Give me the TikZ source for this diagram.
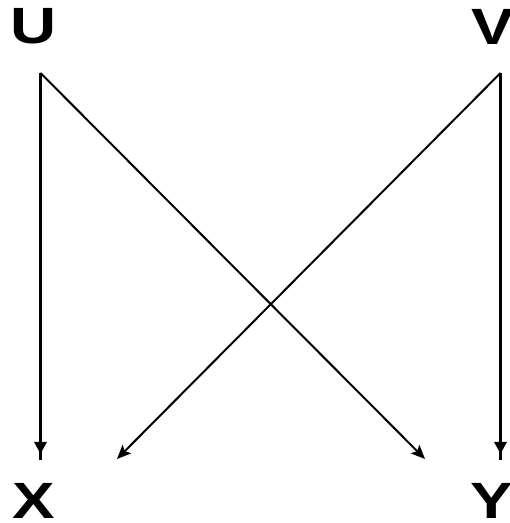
\documentclass[tikz,border=0pt]{standalone}
\usepackage{fontspec}
\setmainfont{Liberation Sans}
\usetikzlibrary{arrows.meta}
\newcommand{\widelbl}[1]{\scalebox{1.25}[1]{#1}}
\begin{document}
\begin{tikzpicture}[x=1pt,y=1pt,
  lbl/.style={font=\fontsize{51}{51}\selectfont\bfseries, inner sep=0pt},
  conn/.style={line width=3.2pt, -{Triangle[length=12pt,width=12pt]Rectangle[length=6pt,width=3.2pt]}},
  diag/.style={line width=2pt, -{Stealth[length=14pt,width=12pt,inset=3pt]}}]
\useasboundingbox (0,0) rectangle (510,523);
\node[lbl] (U) at (33.5,496.5) {\widelbl{U}};
\node[lbl] (V) at (493,496.5) {\widelbl{V}};
\node[lbl] (X) at (33.5,22.5) {\widelbl{X}};
\node[lbl] (Y) at (492,22.5) {\widelbl{Y}};
\coordinate (us) at (40.5,450);
\coordinate (vs) at (500.5,450);
\coordinate (xe) at (40.5,63);
\coordinate (ye) at (500.5,63);
\coordinate (xd) at (117,64);
\coordinate (yd) at (425,64);
\draw[conn] (us) -- (xe);
\draw[conn] (vs) -- (ye);
\draw[diag] (us) -- (yd);
\draw[diag] (vs) -- (xd);
\end{tikzpicture}
\end{document}
